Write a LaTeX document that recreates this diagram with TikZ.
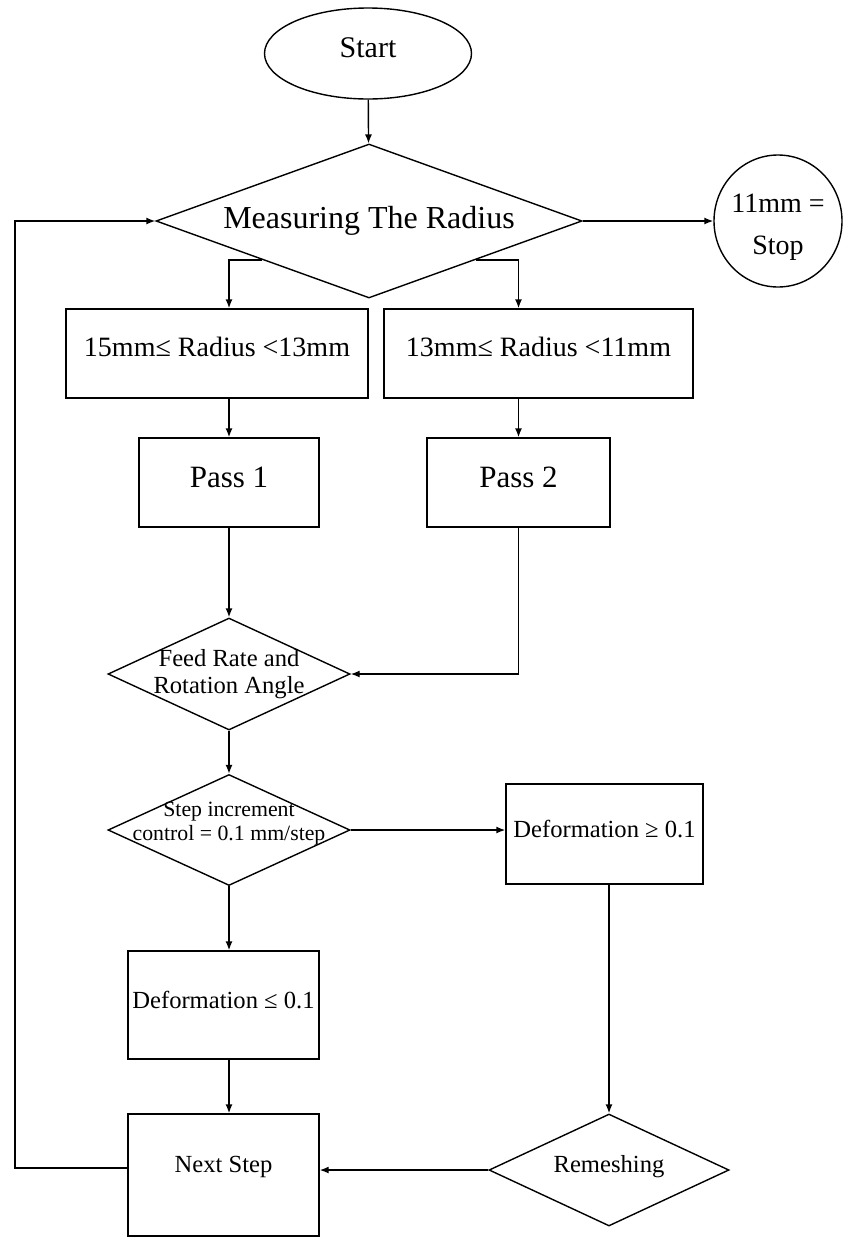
\documentclass[tikz,border=0pt]{standalone}
\usepackage{fontspec}
\setmainfont{Liberation Serif}
\usetikzlibrary{shapes.geometric,arrows.meta}

\begin{document}
\begin{tikzpicture}[x=0.5pt,y=-0.5pt,line width=0.7pt,
	>={Latex[length=4.5pt,width=3.5pt]},
	term/.style={draw,ellipse,inner sep=0pt},
	proc/.style={draw,rectangle,inner sep=0pt},
	dec/.style={draw,diamond,inner sep=0pt},
	txt/.style={font=\fontsize{#1}{#1}\selectfont,align=center,inner sep=0pt}]
	\useasboundingbox (0,0) rectangle (844,1237);

	%start and radius check
	\node[term,minimum width=103.5pt,minimum height=45.5pt,
	  label={[name=startt,txt=15,yshift=2.75pt]center:Start}] (start) at (368,53.5) {};
	\node[dec,minimum width=213pt,minimum height=77pt,
	  label={[name=meast,txt=16]center:Measuring The Radius}] (meas) at (369,221) {};
	\node[term,minimum width=64pt,minimum height=66pt,
	  label={[name=stopt,txt=14,yshift=-3.25pt]center:11mm =\\[7pt]Stop}] (stop) at (778,221) {};

	%radius ranges
	\node[proc,minimum width=151pt,minimum height=44.5pt,
	  label={[name=r1t,txt=14,yshift=3.5pt]center:15mm≤ Radius <13mm}] (r1) at (217,353.5) {};
	\node[proc,minimum width=154.5pt,minimum height=44.5pt,
	  label={[name=r2t,txt=14,yshift=3.5pt]center:13mm≤ Radius <11mm}] (r2) at (538.5,353.5) {};

	%passes
	\node[proc,minimum width=90pt,minimum height=44.5pt,
	  label={[name=p1t,txt=15.5,yshift=2.75pt]center:Pass 1}] (p1) at (229,482.5) {};
	\node[proc,minimum width=91.5pt,minimum height=44.5pt,
	  label={[name=p2t,txt=15.5,yshift=2.75pt]center:Pass 2}] (p2) at (518.5,482.5) {};

	%feed and step
	\node[dec,minimum width=121pt,minimum height=56pt,
	  label={[name=feedt,txt=12.3]center:Feed Rate and\\[1.2pt]Rotation Angle}] (feed) at (229,674) {};
	\node[dec,minimum width=121pt,minimum height=55.5pt,
	  label={[name=stept,txt=10.9,yshift=3pt]center:Step increment\\[1.1pt]control = 0.1 mm/step}] (stepc) at (229,830) {};

	%deformation
	\node[proc,minimum width=98.5pt,minimum height=50pt,
	  label={[name=dget,txt=12.3,yshift=2.5pt]center:Deformation ≥ 0.1}] (dge) at (604.5,834) {};
	\node[proc,minimum width=95.5pt,minimum height=54pt,
	  label={[name=dlet,txt=12.3,yshift=2.5pt]center:Deformation ≤ 0.1}] (dle) at (223.5,1005) {};

	%next step and remeshing
	\node[proc,minimum width=95.5pt,minimum height=61pt,
	  label={[name=nextt,txt=12.3,yshift=4pt]center:Next Step}] (next) at (223.5,1175) {};
	\node[dec,minimum width=120pt,minimum height=56pt,
	  label={[name=remesht,txt=12.3,yshift=1.5pt]center:Remeshing}] (remesh) at (609,1170) {};

	\coordinate (loop) at (15,1168);

	%arrows
	\draw[->] (start) -- (meas); %start to check
	\draw[->] (meas.east) -- (stop.west); %stop
	\draw[->] (meas.south west) -| (p1 |- r1.north); %left range
	\draw[->] (meas.south east) -| (p2 |- r2.north); %right range
	\draw[->] (r1.south -| p1) -- (p1.north);
	\draw[->] (r2.south -| p2) -- (p2.north);
	\draw[->] (p1.south) -- (feed.north);
	\draw[->] (p2.south) |- (feed.east);
	\draw[->] (feed.south) -- (stepc.north);
	\draw[->] (stepc.east) -- (stepc.east -| dge.west);
	\draw[->] (stepc.south) -- (stepc.south |- dle.north);
	\draw[->] (dle.south -| stepc) -- (next.north -| stepc);
	\draw[->] (dge.south -| remesh) -- (remesh.north);
	\draw[->] (remesh.west) -- (remesh.west -| next.east);
	\draw[->] (next.west |- loop) -- (loop) |- (meas.west); %back to check
\end{tikzpicture}
\end{document}
